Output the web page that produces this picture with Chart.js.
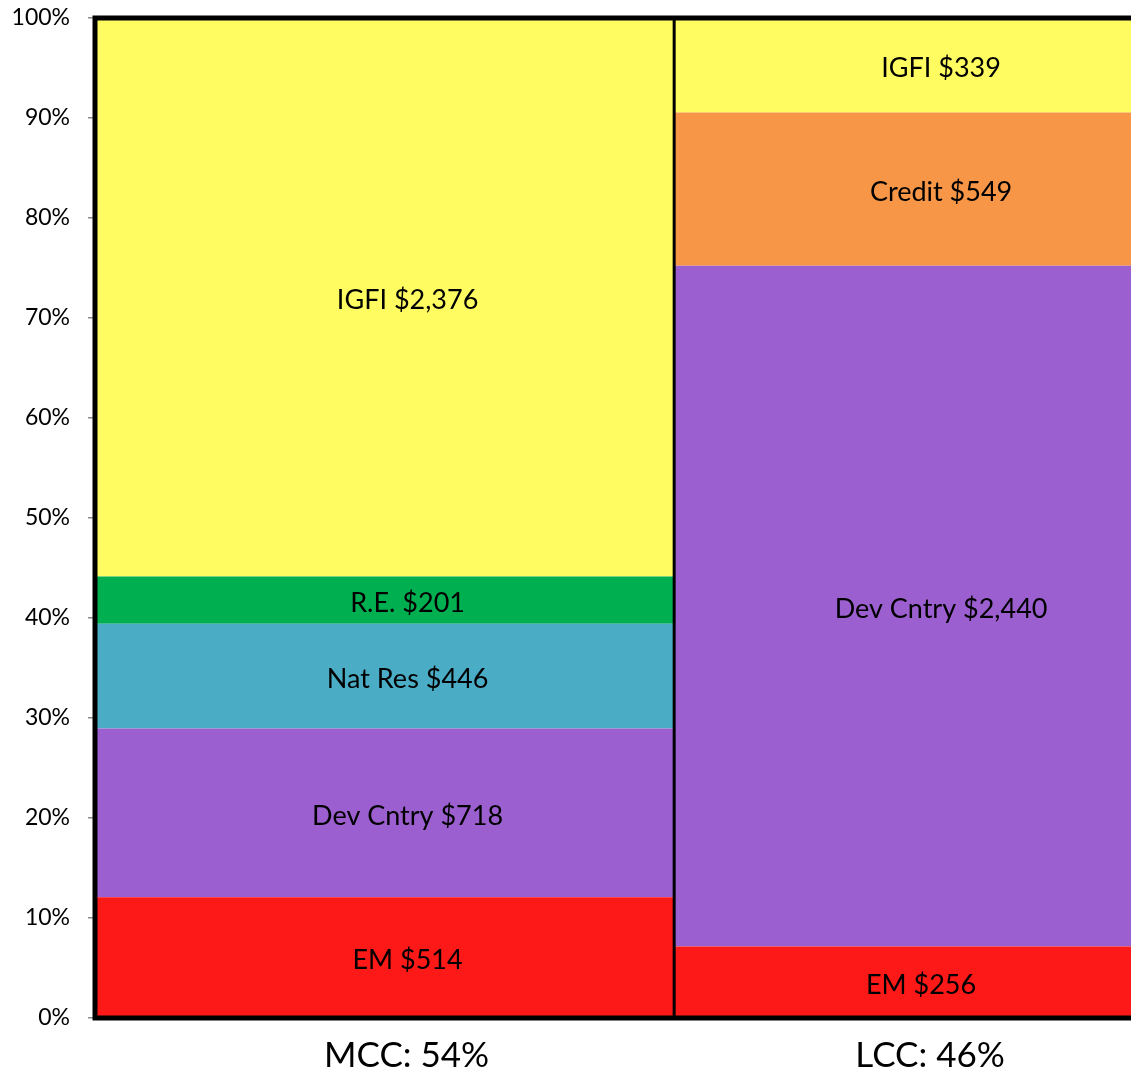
<!DOCTYPE html>
<html>
<head>
<meta charset="utf-8">
<script src="https://cdn.jsdelivr.net/npm/chart.js@4.4.1/dist/chart.umd.min.js"></script>
<style>
  html, body { margin: 0; padding: 0; background: #fff; overflow: hidden; }
  #wrap { position: relative; width: 1190px; height: 1076px; }
</style>
</head>
<body>
<div id="wrap"><canvas id="chart"></canvas></div>
<script>
// Asset holdings by segment for the two country groups ($ amounts)
const groups = ['MCC', 'LCC'];
const segments = ['EM', 'Dev Cntry', 'Nat Res', 'R.E.', 'Credit', 'IGFI'];
const mccValues = [514, 718, 446, 201, 0, 2376];
const lccValues = [256, 2440, 0, 0, 549, 339];
const yTicks = [0, 10, 20, 30, 40, 50, 60, 70, 80, 90, 100];

const segmentColors = {
  'EM': '#FE1919',
  'Dev Cntry': '#9C5FCF',
  'Nat Res': '#4BACC6',
  'R.E.': '#00B050',
  'Credit': '#F79646',
  'IGFI': '#FFFC62'
};

const groupValues = [mccValues, lccValues];
const groupTotals = groupValues.map(v => v.reduce((a, b) => a + b, 0));
const grandTotal = groupTotals.reduce((a, b) => a + b, 0);
const groupShares = groupTotals.map(t => t / grandTotal * 100);
const groupLabels = groups.map((g, i) => g + ': ' + Math.round(groupShares[i]) + '%');

// Build one filled rectangle per segment: a flat line at the segment top,
// filled down to the segment bottom, spanning the group's share of the width.
const datasets = [];
const rects = [];
let xStart = 0;
groups.forEach((g, gi) => {
  const vals = groupValues[gi];
  const xEnd = xStart + groupShares[gi];
  let cum = 0;
  vals.forEach((v, si) => {
    if (!v) return;
    const lo = cum / groupTotals[gi] * 100;
    cum += v;
    const hi = cum / groupTotals[gi] * 100;
    rects.push({ group: g, name: segments[si], value: v, x0: xStart, x1: xEnd, lo, hi });
    datasets.push({
      label: g + ' ' + segments[si],
      data: [{ x: xStart, y: hi }, { x: xEnd, y: hi }],
      fill: { value: lo },
      backgroundColor: segmentColors[segments[si]],
      borderWidth: 0,
      pointRadius: 0,
      tension: 0
    });
  });
  xStart = xEnd;
});

// Divider between the two groups
datasets.unshift({
  label: 'divider',
  data: [{ x: groupShares[0], y: 0 }, { x: groupShares[0], y: 100 }],
  borderColor: '#000',
  borderWidth: 3,
  pointRadius: 0,
  fill: false
});

const FONT = 'Lato, "Open Sans", sans-serif';
const LABEL_SHIFT = 23;
const labelShiftOverride = { 'LCC EM': 3 };
const groupLabelShift = [22, 12];

const annotate = {
  id: 'annotate',
  afterDatasetsDraw(chart) {
    const { ctx, chartArea: a, scales: { x, y } } = chart;
    ctx.save();
    // frame: top, left, bottom
    ctx.strokeStyle = '#000';
    ctx.lineWidth = 5;
    ctx.beginPath();
    ctx.moveTo(chart.width + 10, a.top);
    ctx.lineTo(a.left, a.top);
    ctx.lineTo(a.left, a.bottom);
    ctx.lineTo(chart.width + 10, a.bottom);
    ctx.stroke();

    // segment labels
    ctx.fillStyle = '#000';
    ctx.textAlign = 'center';
    ctx.textBaseline = 'middle';
    ctx.font = '27px ' + FONT;
    rects.forEach(r => {
      const key = r.group + ' ' + r.name;
      const shift = key in labelShiftOverride ? labelShiftOverride[key] : LABEL_SHIFT;
      const cx = (x.getPixelForValue(r.x0) + x.getPixelForValue(r.x1)) / 2 + shift;
      const cy = (y.getPixelForValue(r.lo) + y.getPixelForValue(r.hi)) / 2;
      ctx.fillText(r.name + ' $' + r.value.toLocaleString('en-US'), cx, cy + 3);
    });

    // group labels under the columns
    ctx.font = '35px ' + FONT;
    let xs = 0;
    groups.forEach((g, gi) => {
      const xe = xs + groupShares[gi];
      const cx = (x.getPixelForValue(xs) + x.getPixelForValue(xe)) / 2 + groupLabelShift[gi];
      ctx.fillText(groupLabels[gi], cx, a.bottom + 38);
      xs = xe;
    });
    ctx.restore();
  }
};

new Chart(document.getElementById('chart'), {
  type: 'line',
  data: { datasets },
  options: {
    responsive: true,
    maintainAspectRatio: false,
    animation: false,
    layout: { padding: { top: 18, right: 28, bottom: 0, left: 0 } },
    plugins: { legend: { display: false }, tooltip: { enabled: false } },
    scales: {
      x: {
        type: 'linear',
        min: 0,
        max: 100,
        grid: { display: false },
        border: { display: false },
        ticks: { display: false },
        afterFit(scale) { scale.height = 58; }
      },
      y: {
        type: 'linear',
        min: 0,
        max: 100,
        afterBuildTicks(scale) { scale.ticks = yTicks.map(v => ({ value: v })); },
        grid: { drawOnChartArea: false, color: '#8c8c8c', tickLength: 7, lineWidth: 1.5 },
        border: { display: false },
        ticks: {
          padding: 18,
          color: '#000',
          font: { family: FONT, size: 23 },
          callback: v => v + '%'
        },
        afterFit(scale) {
          scale.width = 95;
          scale.paddingTop = 0;
          scale.paddingBottom = 0;
        }
      }
    }
  },
  plugins: [annotate]
});
</script>
</body>
</html>
